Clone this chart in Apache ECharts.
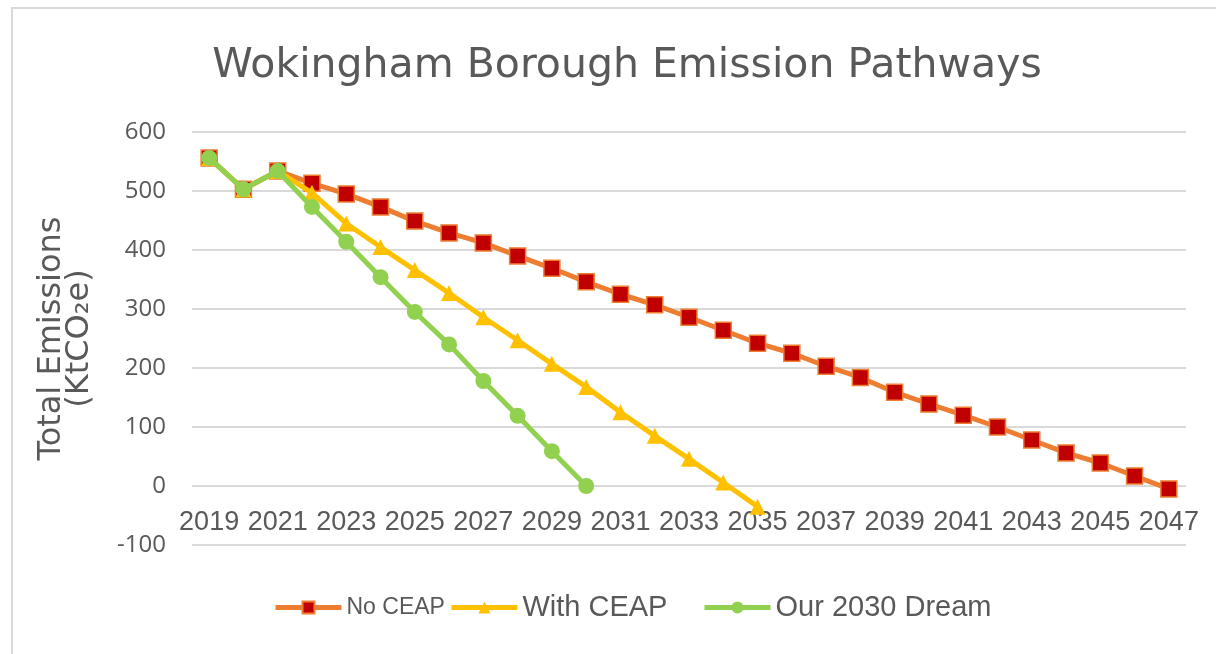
<!DOCTYPE html>
<html>
<head>
<meta charset="utf-8">
<script src="https://cdn.jsdelivr.net/npm/echarts@6/dist/echarts.min.js"></script>
<style>html,body{margin:0;padding:0;background:#fff;}#c{width:1216px;height:654px;}</style>
</head>
<body>
<div id="c"></div>
<script>
const years = [2019,2020,2021,2022,2023,2024,2025,2026,2027,2028,2029,2030,2031,2032,2033,2034,2035,2036,2037,2038,2039,2040,2041,2042,2043,2044,2045,2046,2047].map(String);
const noCeap = [556,503,534,513,495,473,449,429,412,390,369,346,325,307,286,264,242,225,203,184,159,139,120,100,78,56,39,17,-5];
const withCeap = [556,503,534,497,445,405,366,327,286,247,207,168,125,85,46,6,-35];
const dream2030 = [556,503,534,473,414,354,295,240,178,119,59,0];
const yTicks = {min:-100, max:600, interval:100};

const chart = echarts.init(document.getElementById('c'));
const grey = '#595959';
const legendBase = {bottom:27, itemGap:4, itemWidth:66, itemHeight:15,
  lineStyle:{width:5},
  formatter:function(n){ return n==='No CEAP' ? '{s|'+n+'}' : '{b|'+n+'}'; },
  textStyle:{color:grey, rich:{
    s:{fontFamily:'Liberation Sans', fontSize:23, color:grey},
    b:{fontFamily:'Liberation Sans', fontSize:29, color:grey}
  }}};
chart.setOption({
  animation:false,
  backgroundColor:'#fff',
  graphic:[{type:'rect', shape:{x:12,y:8,width:1230,height:670}, style:{fill:'none', stroke:'#d9d9d9', lineWidth:2}, silent:true}],
  title:{text:'Wokingham Borough Emission Pathways', left:622, textAlign:'center', top:41,
    textStyle:{fontFamily:'DejaVu Sans', fontWeight:'normal', fontSize:41, color:grey}},
  grid:{left:192, right:30, top:132, bottom:109},
  legend:[
    Object.assign({}, legendBase, {left:268, data:['No CEAP','With CEAP']}),
    Object.assign({}, legendBase, {left:697, data:['Our 2030 Dream']})
  ],
  xAxis:{type:'category', data:years, boundaryGap:true,
    axisLine:{show:false}, axisTick:{show:false},
    axisLabel:{interval:1, margin:-36, color:grey, fontFamily:'Liberation Sans', fontSize:27}},
  yAxis:{type:'value', min:yTicks.min, max:yTicks.max, interval:yTicks.interval,
    name:'Total Emissions\n(KtCO\u2082e)', nameLocation:'middle', nameGap:98, nameRotate:90,
    nameTextStyle:{color:grey, fontFamily:'DejaVu Sans', fontSize:32, lineHeight:28},
    axisLine:{show:false}, axisTick:{show:false},
    axisLabel:{color:grey, fontFamily:'Open Sans', fontSize:24, margin:26},
    splitLine:{lineStyle:{color:'#d9d9d9', width:2}}},
  series:[
    {name:'No CEAP', type:'line', data:noCeap, symbol:'rect', symbolSize:16,
      lineStyle:{color:'#ED7D31', width:5}, itemStyle:{color:'#C00000', borderColor:'#ED7D31', borderWidth:1.5}, z:2},
    {name:'With CEAP', type:'line', data:withCeap, symbol:'triangle', symbolSize:16,
      lineStyle:{color:'#FFC000', width:5}, itemStyle:{color:'#FFC000'}, z:3},
    {name:'Our 2030 Dream', type:'line', data:dream2030, symbol:'circle', symbolSize:16,
      lineStyle:{color:'#92D050', width:5}, itemStyle:{color:'#92D050'}, z:4}
  ]
});
</script>
</body>
</html>
